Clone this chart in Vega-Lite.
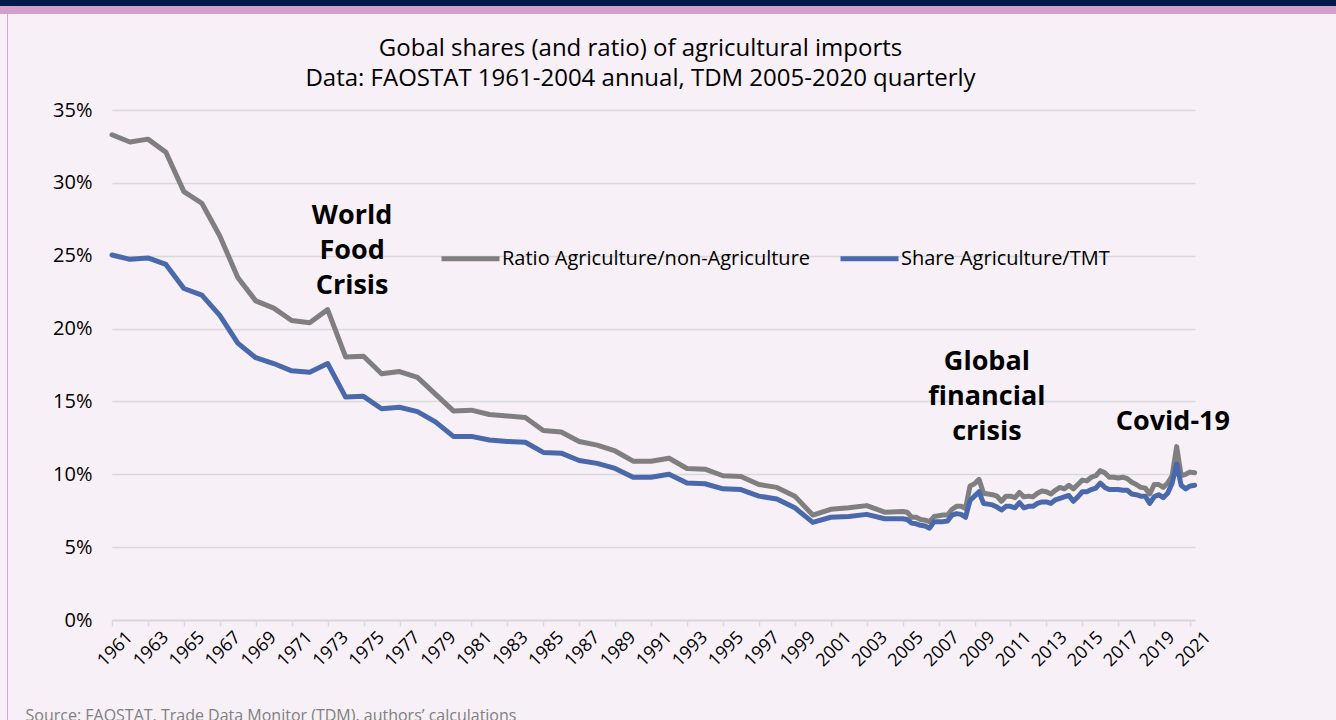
{
  "$schema": "https://vega.github.io/schema/vega-lite/v6.json",
  "background": "#F7F0F7",
  "padding": 0,
  "config": {
    "font": "Open Sans",
    "view": {"stroke": null},
    "title": {"color": "#000000", "fontWeight": "normal"},
    "axis": {"labelOverlap": false},
    "axisX": {
      "labelOverlap": false,
      "labelAngle": -45,
      "labelAlign": "center",
      "labelBaseline": "middle",
      "labelFontSize": 18,
      "labelColor": "#000000",
      "labelPadding": 23,
      "labelOffset": 3,
      "labelFlush": false,
      "tickSize": 6,
      "tickColor": "#D9D9D9",
      "tickWidth": 1.5,
      "domainColor": "#D9D9D9",
      "domainWidth": 2,
      "grid": false,
      "titleFontSize": 16,
      "titleFontWeight": "normal",
      "titleColor": "#808080",
      "titleAnchor": "start",
      "titleAlign": "left",
      "titleBaseline": "top",
      "titleX": -87,
      "titleY": 87
    },
    "axisY": {
      "labelFontSize": 20,
      "labelColor": "#000000",
      "labelPadding": 20,
      "domain": false,
      "ticks": false,
      "grid": true,
      "gridColor": "#D9D9D9",
      "gridWidth": 1.5
    }
  },
  "columns": 1,
  "spacing": 0,
  "align": "none",
  "concat": [
    {"width": 1336, "height": 6, "view": {"fill": "#011A4B", "stroke": null}, "data": {"values": []}, "mark": "rect", "encoding": {}},
    {"width": 1336, "height": 8, "view": {"fill": "#D4A0C8", "stroke": null}, "data": {"values": []}, "mark": "rect", "encoding": {}},
    {
      "spacing": 0,
      "align": "none",
      "concat": [
        {"width": 7, "height": 706, "data": {"values": []}, "mark": "rect", "encoding": {}},
        {"width": 1, "height": 706, "view": {"fill": "#D9A6CF", "stroke": null}, "data": {"values": []}, "mark": "rect", "encoding": {}},
        {"width": 17, "height": 10, "data": {"values": []}, "mark": "rect", "encoding": {}},
        {
          "columns": 1,
          "spacing": 0,
          "align": "none",
          "concat": [
            {"width": 1, "height": 23, "data": {"values": []}, "mark": "rect", "encoding": {}},
            {
              "width": 1083,
              "height": 510,
              "title": {
                "text": ["Gobal shares (and ratio) of agricultural imports", "Data: FAOSTAT 1961-2004 annual, TDM 2005-2020 quarterly"],
                "fontSize": 24,
                "lineHeight": 30,
                "frame": "group",
                "anchor": "middle",
                "dx": -13,
                "offset": 9
              },
              "layer": [
                {
                  "data": {
                    "values": [
                      {"t": 1961, "ratio": 0.333, "share": 0.2505},
                      {"t": 1962, "ratio": 0.328, "share": 0.2475},
                      {"t": 1963, "ratio": 0.330, "share": 0.2485},
                      {"t": 1964, "ratio": 0.321, "share": 0.244},
                      {"t": 1965, "ratio": 0.294, "share": 0.2275},
                      {"t": 1966, "ratio": 0.286, "share": 0.223},
                      {"t": 1967, "ratio": 0.2635, "share": 0.209},
                      {"t": 1968, "ratio": 0.235, "share": 0.190},
                      {"t": 1969, "ratio": 0.219, "share": 0.180},
                      {"t": 1970, "ratio": 0.214, "share": 0.176},
                      {"t": 1971, "ratio": 0.2055, "share": 0.171},
                      {"t": 1972, "ratio": 0.204, "share": 0.170},
                      {"t": 1973, "ratio": 0.213, "share": 0.176},
                      {"t": 1974, "ratio": 0.1805, "share": 0.153},
                      {"t": 1975, "ratio": 0.181, "share": 0.1535},
                      {"t": 1976, "ratio": 0.169, "share": 0.145},
                      {"t": 1977, "ratio": 0.1705, "share": 0.146},
                      {"t": 1978, "ratio": 0.1665, "share": 0.143},
                      {"t": 1979, "ratio": 0.155, "share": 0.136},
                      {"t": 1980, "ratio": 0.1435, "share": 0.126},
                      {"t": 1981, "ratio": 0.144, "share": 0.126},
                      {"t": 1982, "ratio": 0.141, "share": 0.1235},
                      {"t": 1983, "ratio": 0.140, "share": 0.1225},
                      {"t": 1984, "ratio": 0.139, "share": 0.122},
                      {"t": 1985, "ratio": 0.130, "share": 0.115},
                      {"t": 1986, "ratio": 0.129, "share": 0.1145},
                      {"t": 1987, "ratio": 0.1225, "share": 0.1095},
                      {"t": 1988, "ratio": 0.120, "share": 0.1075},
                      {"t": 1989, "ratio": 0.116, "share": 0.104},
                      {"t": 1990, "ratio": 0.109, "share": 0.098},
                      {"t": 1991, "ratio": 0.109, "share": 0.098},
                      {"t": 1992, "ratio": 0.111, "share": 0.100},
                      {"t": 1993, "ratio": 0.104, "share": 0.094},
                      {"t": 1994, "ratio": 0.1035, "share": 0.0935},
                      {"t": 1995, "ratio": 0.099, "share": 0.090},
                      {"t": 1996, "ratio": 0.0985, "share": 0.0895},
                      {"t": 1997, "ratio": 0.093, "share": 0.085},
                      {"t": 1998, "ratio": 0.091, "share": 0.083},
                      {"t": 1999, "ratio": 0.085, "share": 0.077},
                      {"t": 2000, "ratio": 0.072, "share": 0.067},
                      {"t": 2001, "ratio": 0.076, "share": 0.0705},
                      {"t": 2002, "ratio": 0.077, "share": 0.071},
                      {"t": 2003, "ratio": 0.0785, "share": 0.0725},
                      {"t": 2004, "ratio": 0.074, "share": 0.0695},
                      {"t": 2005.0, "ratio": 0.0745, "share": 0.0695},
                      {"t": 2005.25, "ratio": 0.074, "share": 0.069},
                      {"t": 2005.5, "ratio": 0.0705, "share": 0.0665},
                      {"t": 2005.75, "ratio": 0.0705, "share": 0.066},
                      {"t": 2006.0, "ratio": 0.069, "share": 0.065},
                      {"t": 2006.25, "ratio": 0.0685, "share": 0.0645},
                      {"t": 2006.5, "ratio": 0.0675, "share": 0.063},
                      {"t": 2006.75, "ratio": 0.071, "share": 0.0675},
                      {"t": 2007.0, "ratio": 0.0715, "share": 0.0675},
                      {"t": 2007.25, "ratio": 0.072, "share": 0.0675},
                      {"t": 2007.5, "ratio": 0.072, "share": 0.068},
                      {"t": 2007.75, "ratio": 0.076, "share": 0.072},
                      {"t": 2008.0, "ratio": 0.078, "share": 0.073},
                      {"t": 2008.25, "ratio": 0.078, "share": 0.0725},
                      {"t": 2008.5, "ratio": 0.0765, "share": 0.0705},
                      {"t": 2008.75, "ratio": 0.092, "share": 0.082},
                      {"t": 2009.0, "ratio": 0.0935, "share": 0.085},
                      {"t": 2009.25, "ratio": 0.0965, "share": 0.088},
                      {"t": 2009.5, "ratio": 0.087, "share": 0.080},
                      {"t": 2009.75, "ratio": 0.0865, "share": 0.0795},
                      {"t": 2010.0, "ratio": 0.086, "share": 0.079},
                      {"t": 2010.25, "ratio": 0.085, "share": 0.0775},
                      {"t": 2010.5, "ratio": 0.0815, "share": 0.0755},
                      {"t": 2010.75, "ratio": 0.085, "share": 0.078},
                      {"t": 2011.0, "ratio": 0.085, "share": 0.078},
                      {"t": 2011.25, "ratio": 0.084, "share": 0.077},
                      {"t": 2011.5, "ratio": 0.0875, "share": 0.0805},
                      {"t": 2011.75, "ratio": 0.0845, "share": 0.077},
                      {"t": 2012.0, "ratio": 0.085, "share": 0.078},
                      {"t": 2012.25, "ratio": 0.0845, "share": 0.078},
                      {"t": 2012.5, "ratio": 0.087, "share": 0.080},
                      {"t": 2012.75, "ratio": 0.0885, "share": 0.081},
                      {"t": 2013.0, "ratio": 0.088, "share": 0.081},
                      {"t": 2013.25, "ratio": 0.0865, "share": 0.080},
                      {"t": 2013.5, "ratio": 0.089, "share": 0.0825},
                      {"t": 2013.75, "ratio": 0.091, "share": 0.0835},
                      {"t": 2014.0, "ratio": 0.090, "share": 0.0845},
                      {"t": 2014.25, "ratio": 0.0925, "share": 0.0855},
                      {"t": 2014.5, "ratio": 0.090, "share": 0.0815},
                      {"t": 2014.75, "ratio": 0.093, "share": 0.0845},
                      {"t": 2015.0, "ratio": 0.096, "share": 0.088},
                      {"t": 2015.25, "ratio": 0.0955, "share": 0.088},
                      {"t": 2015.5, "ratio": 0.098, "share": 0.0895},
                      {"t": 2015.75, "ratio": 0.099, "share": 0.0905},
                      {"t": 2016.0, "ratio": 0.1025, "share": 0.094},
                      {"t": 2016.25, "ratio": 0.101, "share": 0.091},
                      {"t": 2016.5, "ratio": 0.098, "share": 0.0895},
                      {"t": 2016.75, "ratio": 0.098, "share": 0.0895},
                      {"t": 2017.0, "ratio": 0.0975, "share": 0.0895},
                      {"t": 2017.25, "ratio": 0.098, "share": 0.089},
                      {"t": 2017.5, "ratio": 0.097, "share": 0.089},
                      {"t": 2017.75, "ratio": 0.0945, "share": 0.0865},
                      {"t": 2018.0, "ratio": 0.093, "share": 0.086},
                      {"t": 2018.25, "ratio": 0.091, "share": 0.085},
                      {"t": 2018.5, "ratio": 0.0905, "share": 0.085},
                      {"t": 2018.75, "ratio": 0.0865, "share": 0.080},
                      {"t": 2019.0, "ratio": 0.093, "share": 0.0845},
                      {"t": 2019.25, "ratio": 0.093, "share": 0.086},
                      {"t": 2019.5, "ratio": 0.091, "share": 0.084},
                      {"t": 2019.75, "ratio": 0.094, "share": 0.087},
                      {"t": 2020.0, "ratio": 0.099, "share": 0.094},
                      {"t": 2020.25, "ratio": 0.119, "share": 0.107},
                      {"t": 2020.5, "ratio": 0.099, "share": 0.0925},
                      {"t": 2020.75, "ratio": 0.100, "share": 0.090},
                      {"t": 2021.0, "ratio": 0.1015, "share": 0.092},
                      {"t": 2021.25, "ratio": 0.101, "share": 0.0925}
                    ]
                  },
                  "transform": [{"fold": ["ratio", "share"], "as": ["series", "value"]}],
                  "mark": {"type": "line", "strokeWidth": 5, "strokeJoin": "round", "strokeCap": "round"},
                  "encoding": {
                    "x": {
                      "field": "t",
                      "type": "quantitative",
                      "scale": {"domain": [1961, 2021.27], "nice": false, "zero": false},
                      "axis": {
                        "values": [1961, 1963, 1965, 1967, 1969, 1971, 1973, 1975, 1977, 1979, 1981, 1983, 1985, 1987, 1989, 1991, 1993, 1995, 1997, 1999, 2001, 2003, 2005, 2007, 2009, 2011, 2013, 2015, 2017, 2019, 2021],
                        "format": "d",
                        "labelOverlap": false,
                        "title": "Source: FAOSTAT, Trade Data Monitor (TDM), authors’ calculations"
                      }
                    },
                    "y": {
                      "field": "value",
                      "type": "quantitative",
                      "scale": {"domain": [0, 0.35], "nice": false},
                      "axis": {
                        "values": [0, 0.05, 0.1, 0.15, 0.2, 0.25, 0.3, 0.35],
                        "format": ".0%",
                        "labelOverlap": false,
                        "title": null
                      }
                    },
                    "color": {
                      "field": "series",
                      "type": "nominal",
                      "scale": {"domain": ["ratio", "share"], "range": ["#7F7F7F", "#4A69AC"]},
                      "legend": {
                        "orient": "none",
                        "legendX": 439,
                        "legendY": 227,
                        "direction": "horizontal",
                        "title": null,
                        "symbolType": "stroke",
                        "symbolSize": 3364,
                        "symbolStrokeWidth": 5,
                        "labelFontSize": 20,
                        "labelColor": "#000000",
                        "labelOffset": 0,
                        "columnPadding": 19,
                        "padding": 0,
                        "labelLimit": 400,
                        "labelExpr": "datum.label == 'ratio' ? 'Ratio Agriculture/non-Agriculture' : 'Share Agriculture/TMT'"
                      }
                    }
                  }
                },
                {
                  "data": {
                    "values": [
                      {"label": "World\nFood\nCrisis", "t": 1974.36, "v": 0.2718},
                      {"label": "Global\nfinancial\ncrisis", "t": 2009.69, "v": 0.1716},
                      {"label": "Covid-19", "t": 2020.04, "v": 0.1304}
                    ]
                  },
                  "mark": {"type": "text", "fontSize": 27, "fontWeight": "bold", "color": "#000000", "lineBreak": "\n", "lineHeight": 35, "align": "center", "baseline": "alphabetic"},
                  "encoding": {
                    "x": {
                      "field": "t",
                      "type": "quantitative",
                      "axis": {
                        "values": [1961, 1963, 1965, 1967, 1969, 1971, 1973, 1975, 1977, 1979, 1981, 1983, 1985, 1987, 1989, 1991, 1993, 1995, 1997, 1999, 2001, 2003, 2005, 2007, 2009, 2011, 2013, 2015, 2017, 2019, 2021],
                        "format": "d",
                        "labelOverlap": false,
                        "title": "Source: FAOSTAT, Trade Data Monitor (TDM), authors’ calculations"
                      }
                    },
                    "y": {
                      "field": "v",
                      "type": "quantitative",
                      "axis": {
                        "values": [0, 0.05, 0.1, 0.15, 0.2, 0.25, 0.3, 0.35],
                        "format": ".0%",
                        "labelOverlap": false,
                        "title": null
                      }
                    },
                    "text": {"field": "label", "type": "nominal"}
                  }
                }
              ]
            }
          ]
        }
      ]
    }
  ]
}
